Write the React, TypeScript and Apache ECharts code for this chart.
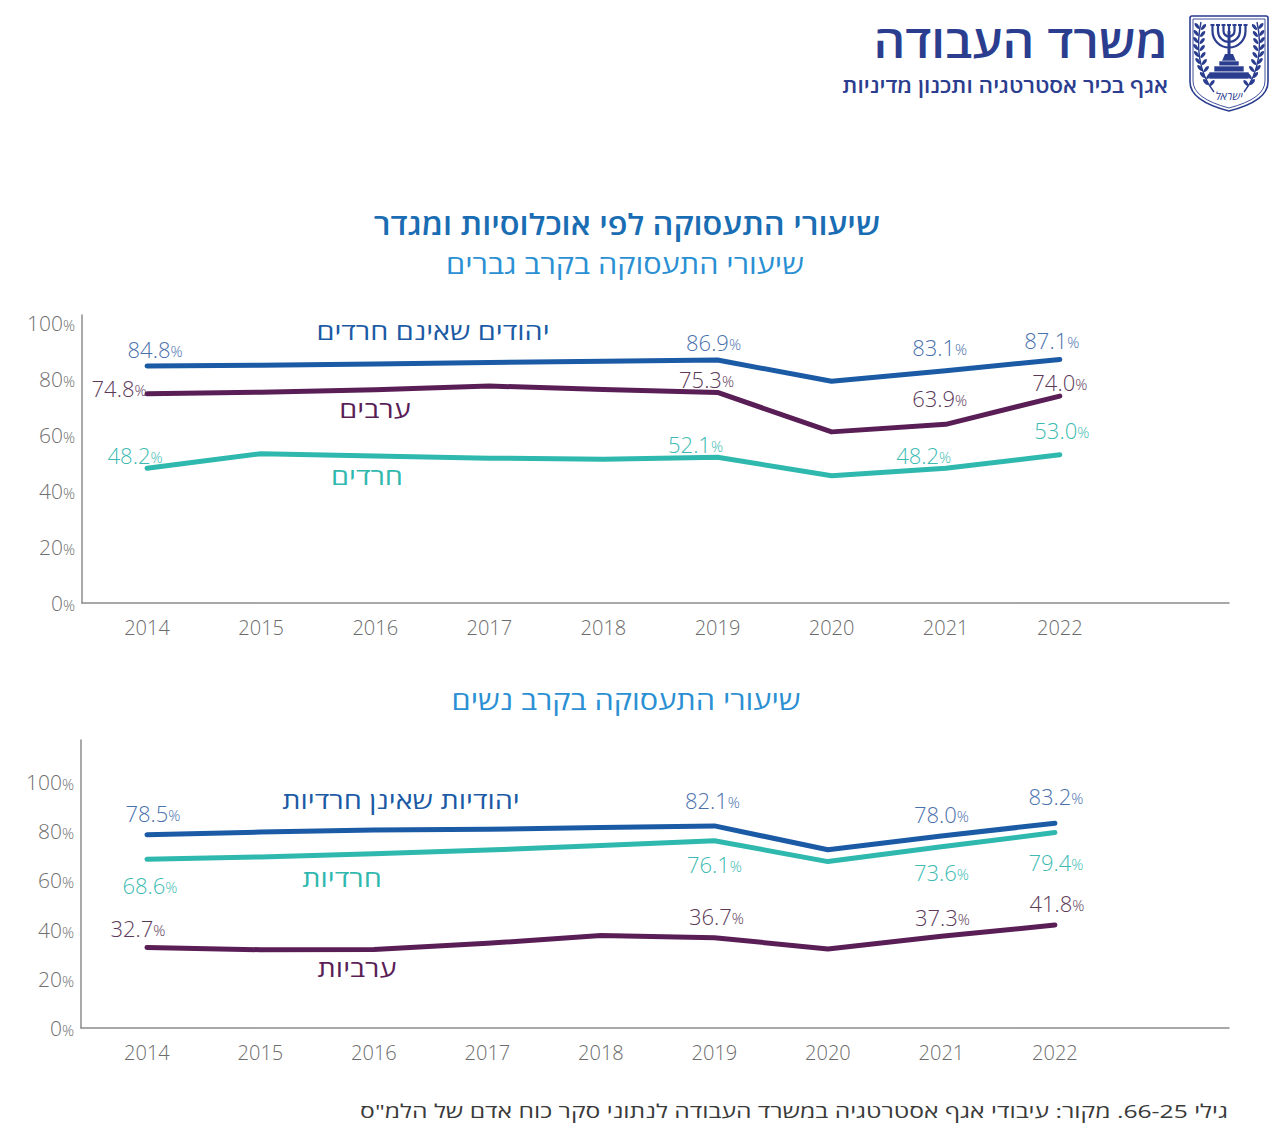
import { useEffect, useRef } from 'react';
import * as echarts from 'echarts';

// שנים
const YEARS = [2014, 2015, 2016, 2017, 2018, 2019, 2020, 2021, 2022];

// שיעורי תעסוקה - גברים (%)
const MEN_JEWS = [84.8, 85.0, 85.5, 86.0, 86.5, 86.9, 79.3, 83.1, 87.1];
const MEN_ARABS = [74.8, 75.4, 76.3, 77.6, 76.4, 75.3, 61.2, 63.9, 74.0];
const MEN_HAREDI = [48.2, 53.4, 52.6, 51.8, 51.4, 52.1, 45.5, 48.2, 53.0];

// שיעורי תעסוקה - נשים (%)
const WOMEN_JEWS = [78.5, 79.6, 80.4, 80.7, 81.5, 82.1, 72.4, 78.0, 83.2];
const WOMEN_HAREDI = [68.6, 69.5, 70.8, 72.3, 74.1, 76.1, 67.6, 73.6, 79.4];
const WOMEN_ARABS = [32.7, 31.8, 31.9, 34.4, 37.6, 36.7, 32.1, 37.3, 41.8];

const Y_TICKS = [0, 20, 40, 60, 80, 100];

const MEN_NAMES = ['יהודים שאינם חרדים', 'ערבים', 'חרדים'];
const WOMEN_NAMES = ['יהודיות שאינן חרדיות', 'חרדיות', 'ערביות'];

const TITLE = 'שיעורי התעסוקה לפי אוכלוסיות ומגדר';
const SUB_MEN = 'שיעורי התעסוקה בקרב גברים';
const SUB_WOMEN = 'שיעורי התעסוקה בקרב נשים';
const MINISTRY = 'משרד העבודה';
const DIVISION = 'אגף בכיר אסטרטגיה ותכנון מדיניות';
const SOURCE = 'גילי 66-25. מקור: עיבודי אגף אסטרטגיה במשרד העבודה לנתוני סקר כוח אדם של הלמ"ס';

const FONT = "'Open Sans', 'DejaVu Sans', sans-serif";
const BLUE = '#1b5aa5';
const PURPLE = '#5a1e57';
const TEAL = '#2fb8ae';
const NAVY = '#2b3d8f';

// where the value labels sit: [index, position, distance, dx, dy]
type Place = [number, string, number, number, number];
const P_MEN_JEWS: Place[] = [[0, 'top', 5, 8, 0], [5, 'top', 7, -4, 0], [7, 'top', 12, -6, 0], [8, 'top', 8, -8, 0]];
const P_MEN_ARABS: Place[] = [[0, 'left', 0, 0, -6], [5, 'top', 2, -11, 0], [7, 'top', 15, -6, 0], [8, 'top', 3, 0, 0]];
const P_MEN_HAREDI: Place[] = [[0, 'top', 2, -12, 0], [5, 'top', 2, -22, 0], [7, 'top', 2, -22, 0], [8, 'top', 13, 2, 0]];
const P_W_JEWS: Place[] = [[0, 'top', 10, 6, 0], [5, 'top', 14, -2, 0], [7, 'top', 11, 0, 0], [8, 'top', 16, 1, 0]];
const P_W_HAREDI: Place[] = [[0, 'bottom', 14, 3, 0], [5, 'bottom', 12, 0, 0], [7, 'bottom', 14, 0, 0], [8, 'bottom', 18, 1, 0]];
const P_W_ARABS: Place[] = [[0, 'top', 8, -9, 0], [5, 'top', 10, 2, 0], [7, 'top', 8, 1, 0], [8, 'top', 11, 2, 0]];

// x extents so that the year labels land where they do in the layout
const X_MIN = [2013.43, 2013.419];
const X_MAX = [2023.483, 2023.534];
const Y_MAX = [103, 117];

const rtl = (s: string) => '\u202B' + s + '\u202C';

echarts.graphic.registerShape(
  'shieldOuter',
  echarts.graphic.extendPath(
    'M1192,16 L1266,16 Q1268,16 1268,18 L1268,82 Q1268,101 1229,111 Q1190,101 1190,82 L1190,18 Q1190,16 1192,16 Z',
    {},
  ),
);
echarts.graphic.registerShape(
  'shieldInner',
  echarts.graphic.extendPath('M1193,19 L1265,19 L1265,81 Q1265,98.5 1229,108 Q1193,98.5 1193,81 Z', {}),
);

function seriesData(vals: number[], places: Place[]) {
  return YEARS.map((yr, i) => {
    const p = places.find((q) => q[0] === i);
    return {
      value: [yr, vals[i]],
      label: p
        ? { show: true, position: p[1], distance: p[2], offset: [p[3], p[4]] }
        : { show: false },
    };
  });
}

function line(name: string, vals: number[], places: Place[], color: string, labelColor: string, idx: number) {
  return {
    type: 'line',
    name,
    xAxisIndex: idx,
    yAxisIndex: idx,
    data: seriesData(vals, places),
    symbol: 'circle',
    symbolSize: 1,
    showSymbol: true,
    itemStyle: { color },
    lineStyle: { color, width: 5, cap: 'round', join: 'round' },
    label: {
      show: false,
      formatter: (p: any) => `{v|${p.value[1].toFixed(1)}}{u|%}`,
      rich: {
        v: { fontSize: 22, color: labelColor, fontFamily: FONT, fontWeight: 300 },
        u: { fontSize: 15, color: labelColor, fontFamily: FONT, fontWeight: 300, padding: [4, 0, 0, 0] },
      },
    },
    silent: true,
    z: 3,
  };
}

function branch(side: number) {
  // side = -1 left, 1 right ; olive branch of the emblem
  const cx = 1229;
  const els: any[] = [
    {
      type: 'bezierCurve',
      shape: {
        x1: cx + side * 15, y1: 92,
        cpx1: cx + side * 31, cpy1: 72,
        cpx2: cx + side * 33, cpy2: 45,
        x2: cx + side * 28, y2: 22,
      },
      style: { stroke: NAVY, lineWidth: 1.4, fill: 'none' },
    },
  ];
  for (let y = 26; y <= 86; y += 7) {
    const t = (y - 22) / 70;
    const dx = 28 + 4 * Math.sin(t * Math.PI) - 13 * t * t;
    const x = cx + side * dx;
    els.push({
      type: 'ellipse', x: x + side * 3.2, y, rotation: side * -0.7,
      shape: { cx: 0, cy: 0, rx: 1.6, ry: 3.6 }, style: { fill: NAVY },
    });
    els.push({
      type: 'ellipse', x: x - side * 3.2, y: y + 1, rotation: side * 0.7,
      shape: { cx: 0, cy: 0, rx: 1.6, ry: 3.6 }, style: { fill: NAVY },
    });
  }
  return els;
}

function emblem() {
  const cx = 1229;
  const els: any[] = [
    { type: 'shieldOuter', x: 0, y: 0, style: { fill: '#fff', stroke: NAVY, lineWidth: 1.6 } },
    { type: 'shieldInner', x: 0, y: 0, style: { fill: 'none', stroke: NAVY, lineWidth: 0.9 } },
  ];
  [5.5, 11, 16.5].forEach((r) => {
    els.push({
      type: 'arc',
      shape: { cx, cy: 31, r, startAngle: 0, endAngle: Math.PI, clockwise: true },
      style: { stroke: NAVY, lineWidth: 2.2, fill: 'none' },
    });
  });
  [-16.5, -11, -5.5, 0, 5.5, 11, 16.5].forEach((d) => {
    els.push({ type: 'line', shape: { x1: cx + d, y1: 26, x2: cx + d, y2: 31 }, style: { stroke: NAVY, lineWidth: 2.2 } });
    els.push({ type: 'rect', shape: { x: cx + d - 2, y: 24, width: 4, height: 2 }, style: { fill: NAVY } });
  });
  els.push({ type: 'line', shape: { x1: cx, y1: 31, x2: cx, y2: 61 }, style: { stroke: NAVY, lineWidth: 3 } });
  els.push({ type: 'polygon', shape: { points: [[cx - 4, 54], [cx + 4, 54], [cx + 7, 61], [cx - 7, 61]] }, style: { fill: NAVY } });
  els.push({ type: 'rect', shape: { x: cx - 10, y: 61, width: 20, height: 5 }, style: { fill: NAVY, stroke: '#fff', lineWidth: 0.6 } });
  els.push({ type: 'rect', shape: { x: cx - 15, y: 66, width: 30, height: 6 }, style: { fill: NAVY, stroke: '#fff', lineWidth: 0.6 } });
  els.push({ type: 'rect', shape: { x: cx - 20, y: 72, width: 40, height: 7 }, style: { fill: NAVY, stroke: '#fff', lineWidth: 0.6 } });
  els.push({
    type: 'text',
    style: {
      text: 'ישראל', x: cx, y: 95, fill: NAVY, fontSize: 11, fontStyle: 'italic',
      fontFamily: FONT, textAlign: 'center', textVerticalAlign: 'middle',
    },
  });
  return els.concat(branch(-1), branch(1));
}

// text placed at (x, y), widened by sx around that anchor
function txt(text: string, x: number, y: number, size: number, color: string, align = 'center', weight: any = 'normal', sx = 1) {
  return {
    type: 'text',
    x,
    y,
    scaleX: sx,
    style: {
      text, x: 0, y: 0, fill: color, fontSize: size, fontWeight: weight, fontFamily: FONT,
      textAlign: align, textVerticalAlign: 'middle',
    },
    z: 10,
  };
}

export default function App() {
  const ref = useRef<HTMLDivElement>(null);

  useEffect(() => {
    document.body.style.margin = '0';
    if (!ref.current) return;
    const chart = echarts.init(ref.current, null, { renderer: 'svg' });

    const axisLineStyle = { color: '#8c8c8c', width: 1.5 };

    chart.setOption({
      animation: false,
      backgroundColor: '#ffffff',
      grid: [
        { left: 82, top: 315, width: 1147, height: 288 },
        { left: 81, top: 740, width: 1148, height: 288 },
      ],
      xAxis: [0, 1].map((i) => ({
        type: 'value',
        gridIndex: i,
        min: X_MIN[i],
        max: X_MAX[i],
        axisLine: { show: true, onZero: false, lineStyle: axisLineStyle },
        axisTick: { show: false },
        splitLine: { show: false },
        axisLabel: {
          customValues: YEARS,
          formatter: (v: number) => String(v),
          color: '#6b6b6b',
          fontSize: 20,
          fontWeight: 300,
          fontFamily: FONT,
          margin: 14,
        },
      })),
      yAxis: [0, 1].map((i) => ({
        type: 'value',
        gridIndex: i,
        min: 0,
        max: Y_MAX[i],
        interval: 20,
        axisLine: { show: true, onZero: false, lineStyle: axisLineStyle },
        axisTick: { show: false },
        splitLine: { show: false },
        axisLabel: {
          margin: 7,
          formatter: (v: number) => (Y_TICKS.includes(v) ? `{n|${v}}{p|%}` : ''),
          rich: {
            n: { fontSize: 21, color: '#707070', fontFamily: FONT, fontWeight: 300 },
            p: { fontSize: 15, color: '#707070', fontFamily: FONT, fontWeight: 300, padding: [4, 0, 0, 0] },
          },
        },
      })),
      series: [
        line(MEN_NAMES[0], MEN_JEWS, P_MEN_JEWS, BLUE, '#4a71ad', 0),
        line(MEN_NAMES[1], MEN_ARABS, P_MEN_ARABS, PURPLE, '#5b3a58', 0),
        line(MEN_NAMES[2], MEN_HAREDI, P_MEN_HAREDI, TEAL, '#3dbbb2', 0),
        line(WOMEN_NAMES[0], WOMEN_JEWS, P_W_JEWS, BLUE, '#4a71ad', 1),
        line(WOMEN_NAMES[1], WOMEN_HAREDI, P_W_HAREDI, TEAL, '#3dbbb2', 1),
        line(WOMEN_NAMES[2], WOMEN_ARABS, P_W_ARABS, PURPLE, '#5b3a58', 1),
      ],
      graphic: [
        ...emblem(),
        txt(MINISTRY, 1168, 40, 45, NAVY, 'right', 600, 1.1),
        txt(DIVISION, 1168, 85, 21, NAVY, 'right', 600, 1.076),
        txt(TITLE, 627, 224, 29, '#1a6db3', 'center', 600, 1.12),
        txt(SUB_MEN, 625, 264, 26, '#2b90d3', 'center', 'normal', 1.18),
        txt(SUB_WOMEN, 626, 700, 26, '#2b90d3', 'center', 'normal', 1.18),
        txt(MEN_NAMES[0], 433, 331, 24, BLUE, 'center', 'normal', 1.2),
        txt(MEN_NAMES[1], 375, 409, 24, PURPLE, 'center', 'normal', 1.2),
        txt(MEN_NAMES[2], 367, 476, 24, TEAL, 'center', 'normal', 1.2),
        txt(WOMEN_NAMES[0], 401, 800, 24, BLUE, 'center', 'normal', 1.2),
        txt(WOMEN_NAMES[1], 342, 878, 24, TEAL, 'center', 'normal', 1.2),
        txt(WOMEN_NAMES[2], 357, 968, 24, PURPLE, 'center', 'normal', 1.2),
        txt(rtl(SOURCE), 1228, 1110, 19, '#3a3a3a', 'right', 'normal', 1.3),
      ],
    });

    return () => chart.dispose();
  }, []);

  return <div ref={ref} style={{ width: 1280, height: 1134 }} />;
}
